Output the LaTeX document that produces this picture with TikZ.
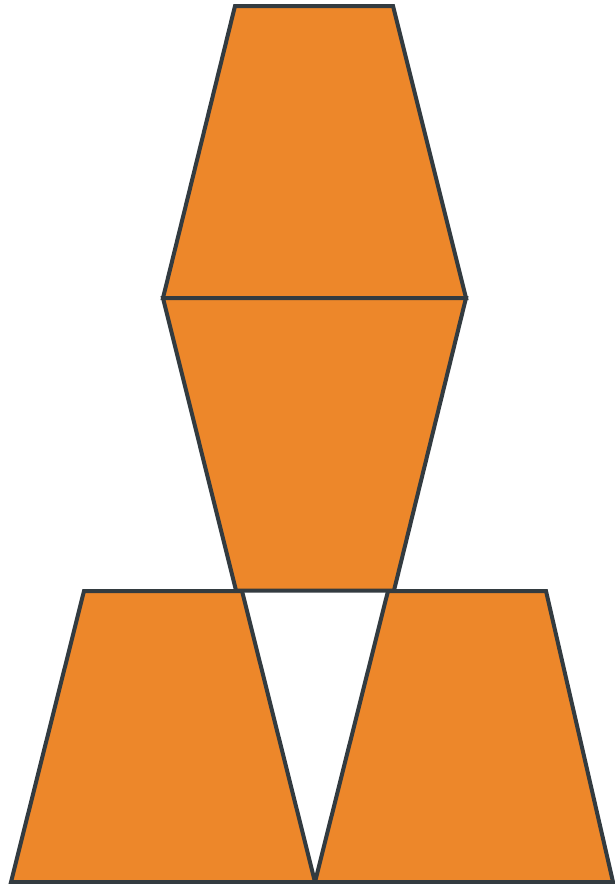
\documentclass[tikz,border=0pt]{standalone}
\definecolor{shapeorange}{RGB}{237,135,42}
\definecolor{shapeedge}{RGB}{51,59,64}
\tikzset{piece/.style={fill=shapeorange,draw=shapeedge,line width=4pt,line join=miter}}
\begin{document}
\begin{tikzpicture}[x=1pt,y=-1pt]
\useasboundingbox (0,0) rectangle (615,884);
\clip (0,0) rectangle (615,884);
% top trapezoid
\draw[piece] (235,6) -- (393,6) -- (466,298) -- (163,298) -- cycle;
% middle inverted trapezoid
\draw[piece] (163,298) -- (466,298) -- (394,590.5) -- (236,590.5) -- cycle;
% bottom left trapezoid
\draw[piece] (84,591) -- (242,591) -- (315,882) -- (11,882) -- cycle;
% bottom right trapezoid
\draw[piece] (388,591) -- (546,591) -- (613,882) -- (315,882) -- cycle;
\end{tikzpicture}
\end{document}
